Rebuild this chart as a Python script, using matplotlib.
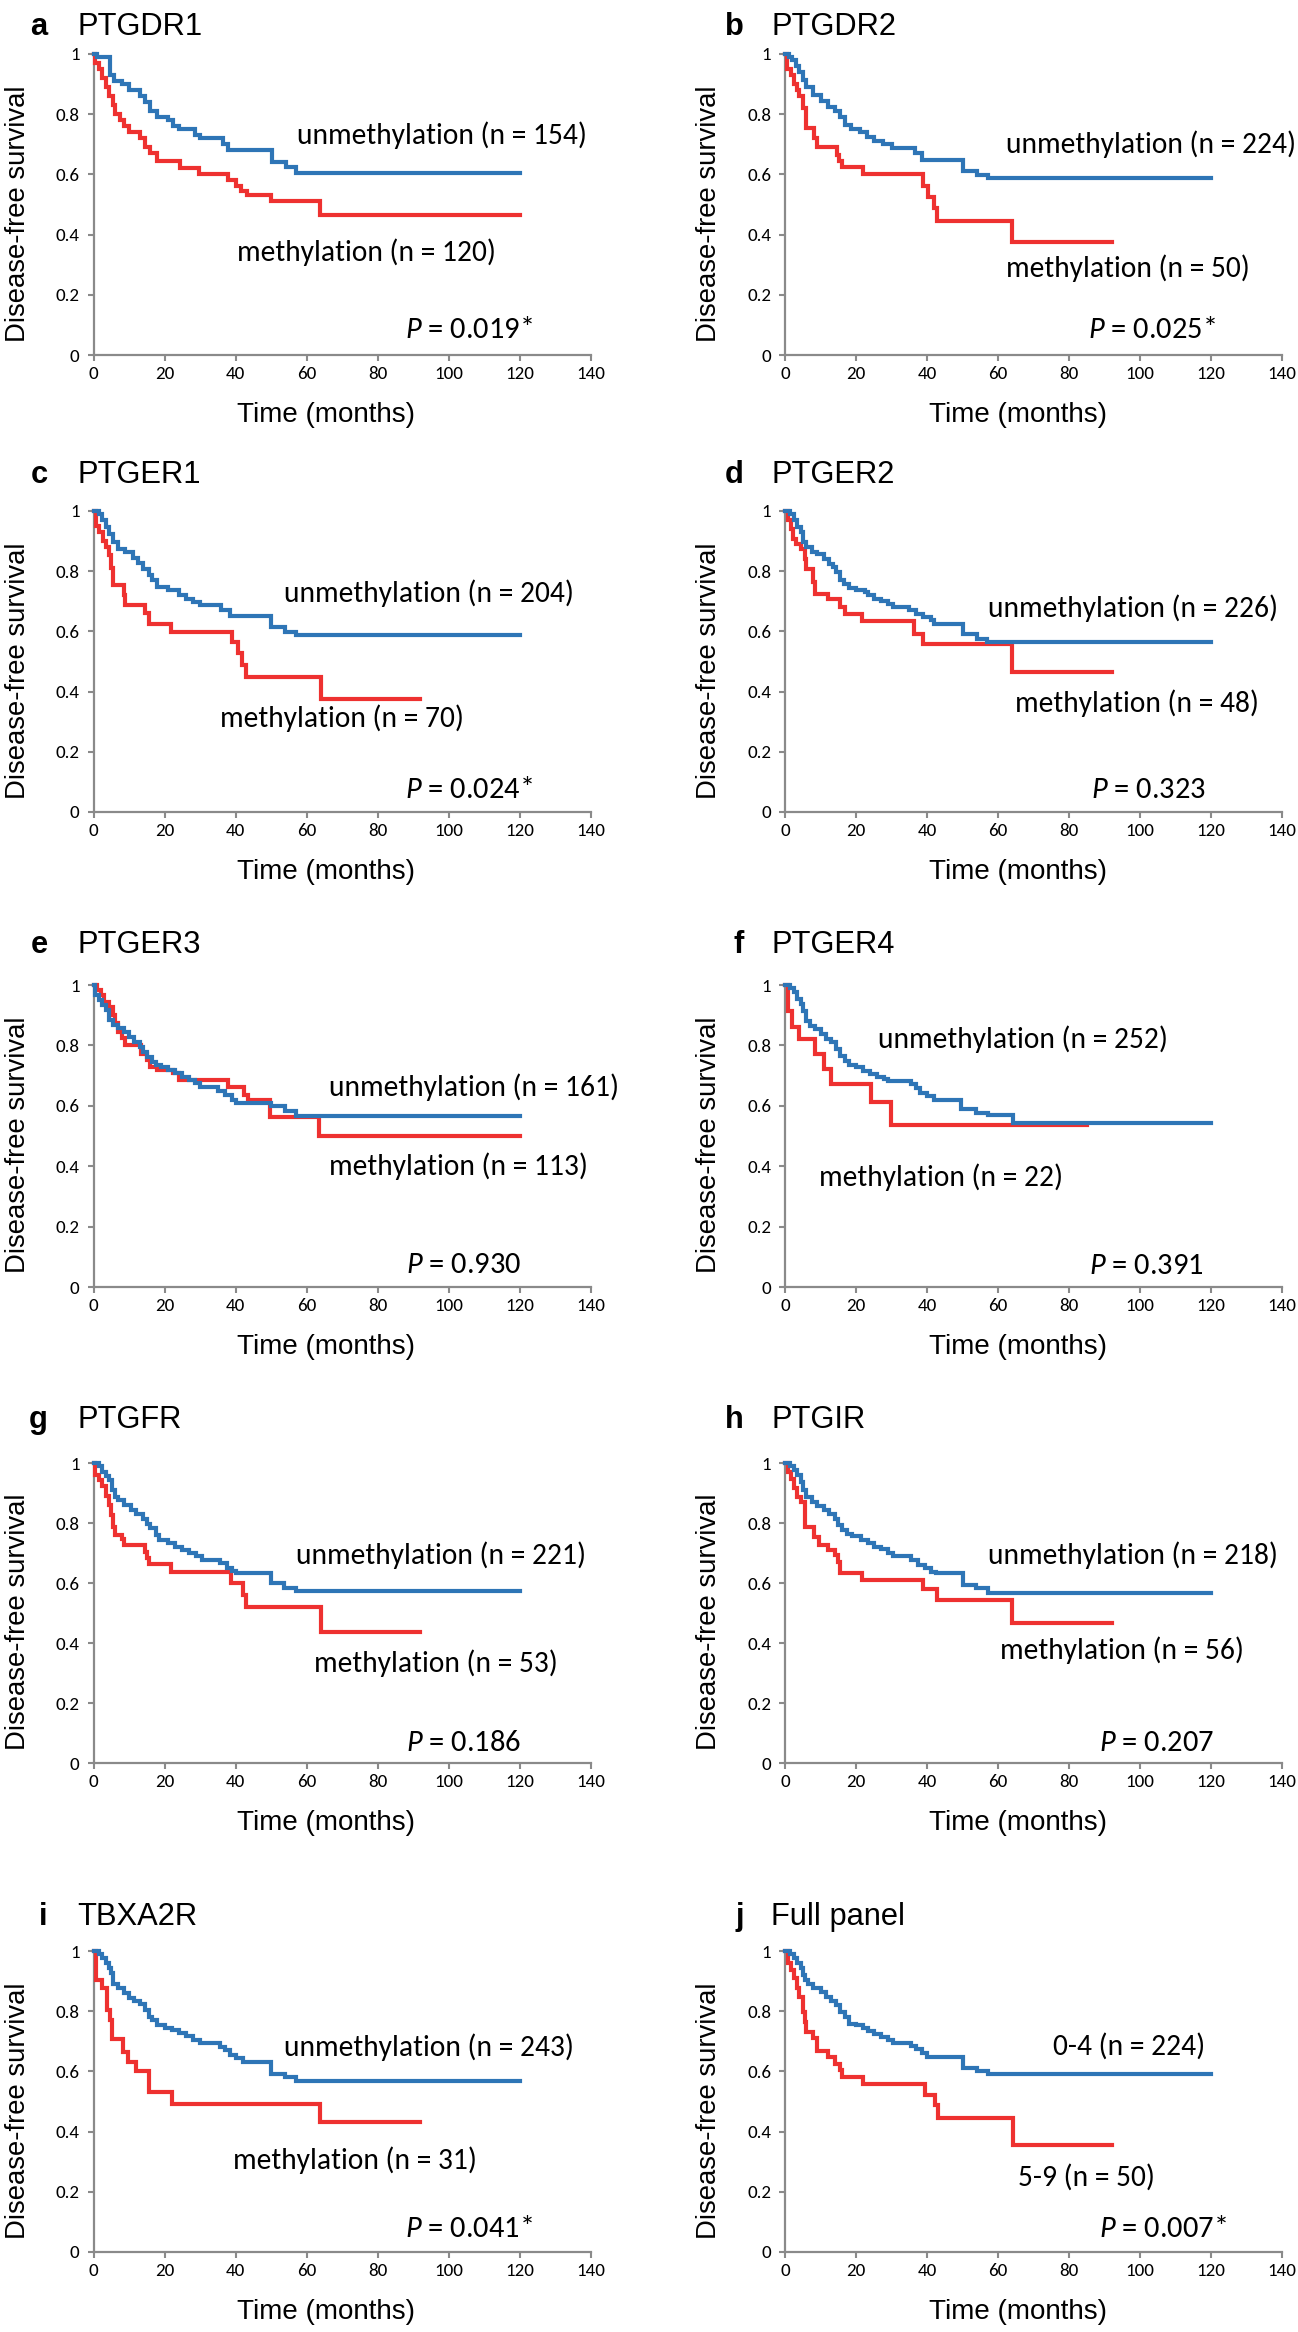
import matplotlib
matplotlib.use('Agg')
import matplotlib.pyplot as plt
from matplotlib import font_manager

# Arial-like font for titles/axis labels, Calibri-like font for notes and tick labels
installed = {f.name for f in font_manager.fontManager.ttflist}
ARIAL = 'Liberation Sans'
CALIBRI = next((c for c in ['Carlito', 'Calibri', 'Lato'] if c in installed), ARIAL)
plt.rcParams['font.family'] = [CALIBRI, 'DejaVu Sans']
plt.rcParams['mathtext.fontset'] = 'custom'
plt.rcParams['mathtext.rm'] = CALIBRI
plt.rcParams['mathtext.it'] = CALIBRI + ':italic'

# ---- data: Kaplan-Meier steps (time in months, survival) ----
a_blue_t = [0, 1, 4.7, 5.8, 8, 10, 13, 14.5, 16, 18, 21, 22.5, 24, 28.5, 30, 36.5, 38, 50.3, 54.2, 57, 120]
a_blue_s = [1, 0.99, 0.93, 0.91, 0.90, 0.88, 0.86, 0.84, 0.81, 0.79, 0.78, 0.76, 0.75, 0.73, 0.72, 0.70, 0.68, 0.64, 0.625, 0.604, 0.604]
a_red_t = [0, 0.5, 1.5, 2.5, 3.5, 4.5, 5.5, 6, 7.5, 8.5, 10, 13, 14.5, 16, 18, 24.5, 29.8, 38, 40, 41.5, 43.3, 50, 63.7, 120]
a_red_s = [1, 0.97, 0.95, 0.92, 0.89, 0.86, 0.83, 0.80, 0.78, 0.76, 0.74, 0.72, 0.69, 0.67, 0.645, 0.62, 0.60, 0.58, 0.56, 0.545, 0.53, 0.51, 0.465, 0.465]

b_blue_t = [0, 1, 2, 3, 4, 5, 6, 8, 10, 12, 14, 15.5, 17, 18.5, 21, 23, 25, 27.5, 30, 36.5, 38.5, 50.1, 54.2, 57.1, 120]
b_blue_s = [1, 0.99, 0.98, 0.96, 0.94, 0.915, 0.89, 0.865, 0.845, 0.825, 0.81, 0.79, 0.765, 0.75, 0.74, 0.725, 0.71, 0.70, 0.687, 0.67, 0.648, 0.61, 0.598, 0.587, 0.587]
b_red_t = [0, 0.6, 1.7, 2.5, 3.3, 4, 5, 5.8, 8.2, 9.1, 14.6, 15.1, 16.1, 22.1, 39, 40.2, 41.9, 42.7, 64, 92.2]
b_red_s = [1, 0.95, 0.93, 0.90, 0.88, 0.86, 0.82, 0.753, 0.72, 0.692, 0.665, 0.645, 0.626, 0.60, 0.56, 0.526, 0.49, 0.446, 0.377, 0.377]

c_blue_t = [0, 1.5, 2.5, 3.5, 4.5, 5.5, 7, 9, 11, 12.5, 14, 15.5, 16.5, 18, 21, 24, 26, 28, 30, 36, 38.5, 50.1, 54, 57, 120]
c_blue_s = [1, 0.99, 0.97, 0.947, 0.925, 0.897, 0.875, 0.864, 0.845, 0.827, 0.808, 0.786, 0.77, 0.747, 0.736, 0.72, 0.709, 0.698, 0.687, 0.67, 0.65, 0.615, 0.598, 0.589, 0.589]
c_red_t = [0, 0.7, 1.5, 2.7, 3.5, 4.5, 5, 5.5, 8.5, 8.8, 14.4, 15.6, 21.9, 38.9, 40.6, 41.8, 42.9, 64, 92]
c_red_s = [1, 0.95, 0.93, 0.90, 0.88, 0.853, 0.81, 0.753, 0.72, 0.689, 0.66, 0.623, 0.598, 0.565, 0.528, 0.49, 0.448, 0.377, 0.377]

d_blue_t = [0, 1.5, 2.5, 3.5, 4.5, 5.2, 6, 7.5, 9, 11, 12.5, 13.5, 14.5, 15.5, 16.5, 18, 20, 22.5, 23.5, 25,
            27, 29, 30.5, 35, 37, 39, 41, 42, 43.5, 50.1, 54, 57, 120]
d_blue_s = [1, 0.99, 0.969, 0.947, 0.93, 0.897, 0.88, 0.864, 0.856, 0.842, 0.825, 0.814, 0.797, 0.77, 0.758, 0.745, 0.739, 0.731, 0.72, 0.709,
            0.70, 0.692, 0.681, 0.67, 0.659, 0.648, 0.639, 0.626, 0.623, 0.592, 0.576, 0.566, 0.566]
d_red_t = [0, 0.8, 1.7, 2.3, 3.2, 4.5, 5.5, 6, 7.9, 8.5, 12, 15.6, 17, 21.8, 36.4, 38.8, 63.9, 92]
d_red_s = [1, 0.969, 0.941, 0.908, 0.891, 0.875, 0.84, 0.808, 0.764, 0.723, 0.709, 0.681, 0.659, 0.635, 0.592, 0.557, 0.465, 0.465]

e_blue_t = [0, 0.5, 1.5, 2.5, 3.5, 4.5, 5.5, 7, 8.5, 10, 11.5, 13, 14, 15, 16.5, 17.5, 19, 21, 23, 25,
            27, 28.5, 30, 35, 37, 39, 40, 49.9, 54, 57, 120]
e_blue_s = [1, 0.967, 0.95, 0.934, 0.917, 0.884, 0.867, 0.856, 0.845, 0.829, 0.812, 0.796, 0.779, 0.762, 0.746, 0.735, 0.727, 0.718, 0.707, 0.696,
            0.687, 0.676, 0.663, 0.65, 0.635, 0.619, 0.61, 0.60, 0.582, 0.566, 0.566]
e_red_t = [0, 1, 2, 3, 4.5, 5.5, 6, 7, 8, 9, 13.5, 15, 16, 18, 22.5, 24, 38, 42.5, 43.5, 49.8, 63.6, 120]
e_red_s = [1, 0.983, 0.967, 0.945, 0.928, 0.90, 0.873, 0.845, 0.823, 0.801, 0.773, 0.751, 0.729, 0.718, 0.707, 0.687, 0.663, 0.635, 0.619, 0.564, 0.499, 0.499]

f_blue_t = [0, 1.5, 2.5, 3.5, 4.5, 5, 6, 7, 8.5, 10, 11.5, 13, 14.5, 15.5, 17, 18, 20, 22, 24, 26,
            28, 29, 35.5, 37, 38, 40, 42, 49.6, 53.7, 57.2, 64.1, 120]
f_blue_s = [1, 0.99, 0.976, 0.954, 0.937, 0.915, 0.882, 0.865, 0.854, 0.837, 0.821, 0.81, 0.788, 0.765, 0.749, 0.736, 0.727, 0.716, 0.705, 0.696,
            0.688, 0.683, 0.671, 0.66, 0.644, 0.633, 0.618, 0.588, 0.577, 0.57, 0.543, 0.543]
f_red_t = [0, 0.8, 2, 4, 8.4, 10.9, 12.9, 24.1, 29.8, 85.1]
f_red_s = [1, 0.915, 0.86, 0.82, 0.771, 0.721, 0.671, 0.611, 0.535, 0.535]

g_blue_t = [0, 1.5, 2.5, 3.5, 4.5, 5.2, 6, 7, 8.5, 10.5, 12, 14, 15, 16, 17.5, 18.5, 21, 23, 25, 27,
            29, 30.5, 35.5, 37.5, 39, 40, 49.9, 53.8, 57, 120]
g_blue_s = [1, 0.99, 0.97, 0.956, 0.942, 0.909, 0.887, 0.876, 0.859, 0.843, 0.831, 0.815, 0.798, 0.782, 0.759, 0.743, 0.734, 0.721, 0.71, 0.701,
            0.69, 0.678, 0.667, 0.651, 0.641, 0.634, 0.599, 0.585, 0.574, 0.574]
g_red_t = [0, 0.5, 1.5, 2.5, 3.5, 4.5, 5, 5.5, 6, 8, 8.5, 14.4, 15, 15.7, 21.9, 38.8, 42, 42.9, 64, 92]
g_red_s = [1, 0.96, 0.942, 0.922, 0.889, 0.859, 0.826, 0.787, 0.759, 0.748, 0.726, 0.704, 0.682, 0.662, 0.637, 0.599, 0.56, 0.521, 0.436, 0.436]

h_blue_t = [0, 1.5, 2.5, 3.5, 4.5, 5, 6, 7.5, 9, 11, 12.5, 14, 15, 16, 17.5, 19, 21.5, 23.5, 25, 27,
            29, 30.5, 35.5, 37.5, 39.5, 41, 42.5, 50.1, 53.8, 57.1, 120]
h_blue_s = [1, 0.99, 0.976, 0.959, 0.937, 0.909, 0.887, 0.87, 0.856, 0.843, 0.829, 0.813, 0.793, 0.776, 0.765, 0.756, 0.745, 0.734, 0.721, 0.712,
            0.701, 0.69, 0.676, 0.66, 0.649, 0.637, 0.632, 0.593, 0.582, 0.568, 0.568]
h_red_t = [0, 0.8, 1.7, 2.5, 3.3, 4.5, 5.5, 8.2, 9.5, 12.1, 14, 15, 15.6, 21.8, 38.9, 42.7, 63.9, 92]
h_red_s = [1, 0.97, 0.948, 0.918, 0.887, 0.87, 0.787, 0.754, 0.726, 0.71, 0.693, 0.671, 0.635, 0.61, 0.579, 0.543, 0.466, 0.466]

i_blue_t = [0, 1.5, 2.5, 3.5, 4.5, 5, 5.5, 7, 8.5, 10, 11.5, 13, 14.5, 15.5, 16.5, 18, 20, 22, 24, 26,
            28, 30, 35.5, 37, 38.5, 40, 42, 50.1, 53.9, 57.1, 120]
i_blue_s = [1, 0.99, 0.976, 0.959, 0.945, 0.926, 0.892, 0.876, 0.859, 0.845, 0.834, 0.823, 0.804, 0.782, 0.771, 0.754, 0.745, 0.737, 0.726, 0.717,
            0.704, 0.695, 0.682, 0.671, 0.654, 0.643, 0.632, 0.591, 0.582, 0.569, 0.569]
i_red_t = [0, 0.8, 2.5, 3.7, 4.7, 5.3, 8.4, 9.6, 11.9, 15.6, 22.1, 63.9, 92.1]
i_red_s = [1, 0.904, 0.876, 0.804, 0.771, 0.707, 0.665, 0.632, 0.601, 0.53, 0.493, 0.432, 0.432]

j_blue_t = [0, 1.5, 2.5, 3.5, 4.5, 5, 5.5, 6.5, 8, 10, 11.5, 13, 14.5, 15.5, 17, 18, 20, 22, 23.5, 25,
            27, 29, 30.5, 35.5, 37, 38.5, 40, 50, 54, 57.3, 120]
j_blue_s = [1, 0.99, 0.976, 0.959, 0.945, 0.92, 0.904, 0.892, 0.876, 0.865, 0.848, 0.834, 0.82, 0.798, 0.782, 0.759, 0.754, 0.745, 0.734, 0.723,
            0.715, 0.704, 0.695, 0.685, 0.673, 0.66, 0.649, 0.61, 0.601, 0.59, 0.59]
j_red_t = [0, 0.8, 1.6, 2.5, 3.3, 4, 5, 5.5, 6, 7.8, 9, 12.2, 14, 15.5, 16, 22, 39.3, 42.2, 43, 64.1, 92.2]
j_red_s = [1, 0.959, 0.937, 0.909, 0.878, 0.848, 0.798, 0.765, 0.732, 0.71, 0.667, 0.649, 0.626, 0.604, 0.582, 0.557, 0.523, 0.488, 0.446, 0.355, 0.355]

letters = ['a', 'b', 'c', 'd', 'e', 'f', 'g', 'h', 'i', 'j']
genes = ['PTGDR1', 'PTGDR2', 'PTGER1', 'PTGER2', 'PTGER3', 'PTGER4', 'PTGFR', 'PTGIR', 'TBXA2R', 'Full panel']
blue_labels = ['unmethylation (n = 154)', 'unmethylation (n = 224)', 'unmethylation (n = 204)',
               'unmethylation (n = 226)', 'unmethylation (n = 161)', 'unmethylation (n = 252)',
               'unmethylation (n = 221)', 'unmethylation (n = 218)', 'unmethylation (n = 243)', '0-4 (n = 224)']
red_labels = ['methylation (n = 120)', 'methylation (n = 50)', 'methylation (n = 70)',
              'methylation (n = 48)', 'methylation (n = 113)', 'methylation (n = 22)',
              'methylation (n = 53)', 'methylation (n = 56)', 'methylation (n = 31)', '5-9 (n = 50)']
p_values = ['0.019*', '0.025*', '0.024*', '0.323', '0.930', '0.391', '0.186', '0.207', '0.041*', '0.007*']
x_ticks = [0, 20, 40, 60, 80, 100, 120, 140]
y_ticks = [0, 0.2, 0.4, 0.6, 0.8, 1]
y_tick_labels = ['0', '0.2', '0.4', '0.6', '0.8', '1']

blue_t = [a_blue_t, b_blue_t, c_blue_t, d_blue_t, e_blue_t, f_blue_t, g_blue_t, h_blue_t, i_blue_t, j_blue_t]
blue_s = [a_blue_s, b_blue_s, c_blue_s, d_blue_s, e_blue_s, f_blue_s, g_blue_s, h_blue_s, i_blue_s, j_blue_s]
red_t = [a_red_t, b_red_t, c_red_t, d_red_t, e_red_t, f_red_t, g_red_t, h_red_t, i_red_t, j_red_t]
red_s = [a_red_s, b_red_s, c_red_s, d_red_s, e_red_s, f_red_s, g_red_s, h_red_s, i_red_s, j_red_s]

# ---- layout (pixels in the 1298x2332 figure) ----
W, H = 1298, 2332
AX_W = 497
col_left = [93.5, 785]
row_top = [54, 511, 985, 1463, 1951]
row_bottom = [355, 812, 1287, 1763, 2252]
title_base = [35, 483, 953, 1428, 1925]
letter_right = [47.5, 744]
gene_left = [77, 771]
# text anchors in data units: blue label (left, mid), red label (left, mid), P value (right, mid)
blue_pos = [(57.3, 0.731), (62.3, 0.701), (53.6, 0.728), (57.3, 0.676), (66.3, 0.663),
            (26.1, 0.819), (57.0, 0.693), (57.3, 0.693), (53.7, 0.682), (75.6, 0.682)]
red_pos = [(40.3, 0.343), (62.3, 0.290), (35.7, 0.313), (64.9, 0.363), (66.3, 0.401),
           (9.6, 0.365), (62.2, 0.333), (60.6, 0.377), (39.4, 0.305), (65.5, 0.250)]
p_pos = [(123.7, 0.083), (121.4, 0.083), (123.7, 0.074), (118.5, 0.074), (120.5, 0.072),
         (118.1, 0.071), (120.5, 0.067), (120.8, 0.067), (123.8, 0.078), (124.6, 0.078)]

BLUE = '#2E75B6'
RED = '#EE3130'
GREY = '#8A8A8A'

fig = plt.figure(figsize=(W / 100, H / 100), dpi=100)
renderer = fig.canvas.get_renderer()


def size_for(sample, width_px, **kw):
    # font size that gives `sample` the width it has in the reference
    t = fig.text(0, 0, sample, fontsize=20, **kw)
    w = t.get_window_extent(renderer).width
    t.remove()
    return 20 * width_px / w


fs_note = size_for('unmethylation (n = 154)', 290)
fs_p = size_for(r'$\mathit{P}$ = 0.019*', 128)
fs_tick = size_for('100', 29)
fs_title = size_for('PTGDR1', 125, family=ARIAL)
fs_xlabel = size_for('Time (months)', 178, family=ARIAL)
fs_ylabel = size_for('Disease-free survival', 257, family=ARIAL)

for k in range(10):
    row, col = k // 2, k % 2
    x0 = col_left[col]
    ax_h = row_bottom[row] - row_top[row]
    ax = fig.add_axes([x0 / W, 1 - row_bottom[row] / H, AX_W / W, ax_h / H])

    ax.plot(red_t[k], red_s[k], drawstyle='steps-post', color=RED, lw=3.0, clip_on=False,
            solid_joinstyle='miter', zorder=3)
    ax.plot(blue_t[k], blue_s[k], drawstyle='steps-post', color=BLUE, lw=3.0, clip_on=False,
            solid_joinstyle='miter', zorder=4)

    ax.set_xlim(0, 140)
    ax.set_ylim(0, 1)
    ax.set_xticks(x_ticks)
    ax.set_xticklabels([str(v) for v in x_ticks])
    ax.set_yticks(y_ticks)
    ax.set_yticklabels(y_tick_labels)
    ax.tick_params(direction='out', length=4, width=1.5, color=GREY, labelsize=fs_tick)
    ax.tick_params(axis='x', pad=4)
    ax.tick_params(axis='y', pad=6)
    for side in ['top', 'right']:
        ax.spines[side].set_visible(False)
    for side in ['left', 'bottom']:
        ax.spines[side].set_color(GREY)
        ax.spines[side].set_linewidth(1.6)

    ax.set_xlabel('Time (months)', fontsize=fs_xlabel, family=ARIAL)
    ax.xaxis.set_label_coords(0.468, -47 / ax_h)
    ax.text(-68.5 / AX_W, 0.47, 'Disease-free survival', transform=ax.transAxes, rotation=90,
            rotation_mode='anchor', ha='center', va='baseline', fontsize=fs_ylabel, family=ARIAL)

    ax.text(*blue_pos[k], blue_labels[k], fontsize=fs_note, ha='left', va='center')
    ax.text(*red_pos[k], red_labels[k], fontsize=fs_note, ha='left', va='center')
    ax.text(*p_pos[k], r'$\mathit{P}$ = ' + p_values[k], fontsize=fs_p, ha='right', va='center')

    fig.text(letter_right[col] / W, 1 - title_base[row] / H, letters[k], fontsize=fs_title,
             fontweight='bold', family=ARIAL, ha='right', va='baseline')
    fig.text(gene_left[col] / W, 1 - title_base[row] / H, genes[k], fontsize=fs_title,
             family=ARIAL, ha='left', va='baseline')

fig.savefig('out.png', dpi=100, facecolor='white')
